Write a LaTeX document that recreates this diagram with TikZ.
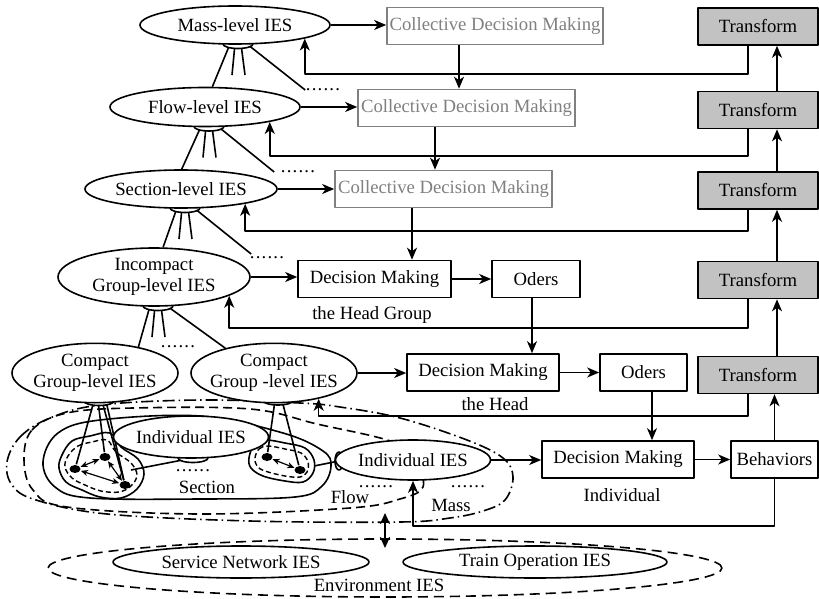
\documentclass[tikz,border=0pt]{standalone}
\usepackage{fontspec}
\setmainfont{Liberation Serif}
\usetikzlibrary{shapes.geometric,arrows.meta}
\pgfdeclarelayer{back}
\pgfsetlayers{back,main}
\definecolor{cdmgray}{gray}{0.5}
\definecolor{trfill}{gray}{0.76}
\newcommand\twoln[2]{\makebox[0pt]{\begin{tabular}{@{}c@{}}#1\\#2\end{tabular}}}
\newcommand\sixdots{.\kern1.2pt.\kern1.2pt.\kern1.2pt.\kern1.2pt.\kern1.2pt.}

\begin{document}
\begin{tikzpicture}[x=1pt,y=-1pt,line width=1.6pt,line join=round,
  every node/.style={font=\fontsize{18.7}{21}\selectfont},
  arr/.style={-{Stealth[length=12pt,width=10pt,inset=3.5pt]}},
  darr/.style={{Stealth[length=11pt,width=10pt,inset=3pt]}-{Stealth[length=11pt,width=10pt,inset=3pt]}},
  sarr/.style={line width=1.2pt,{Stealth[length=7pt,width=6pt,inset=2pt]}-{Stealth[length=7pt,width=6pt,inset=2pt]}},
  ies/.style={ellipse,draw,fill=white,inner sep=0pt},
  capnode/.style={ellipse,draw,fill=white,inner sep=0pt,minimum width=30pt,minimum height=9pt},
  box/.style={rectangle,draw,fill=white,inner sep=0pt,minimum height=37pt},
  cbox/.style={box,draw=cdmgray,text=cdmgray},
  tbox/.style={box,fill=trfill,minimum width=120pt},
  agent/.style={ellipse,fill=black,inner sep=0pt,minimum width=11pt,minimum height=8pt},
  lbl/.style={inner sep=0pt},
  dotsn/.style={inner sep=0pt},
  massloop/.style={dash pattern=on 12pt off 4pt on 1.5pt off 4pt},
  flowloop/.style={dash pattern=on 9pt off 5pt},
  blobin/.style={line width=1.4pt,dash pattern=on 5pt off 3pt},
  envloop/.style={dash pattern=on 10pt off 6pt}]
\useasboundingbox (0,0) rectangle (819,599);

% guide coordinates for vertical connectors
\coordinate (xa) at (459,0);
\coordinate (xb) at (435,0);
\coordinate (xc) at (412,0);
\coordinate (xd) at (532,0);
\coordinate (xe) at (652,0);
\coordinate (xt) at (777,0);
\coordinate (xf) at (748,0);

% environment
\node[ellipse,draw,envloop,minimum width=674pt,minimum height=58pt,inner sep=0pt] (env) at (385,568) {};
\node[ies,minimum width=256pt,minimum height=32pt] (svc) at (241,562) {Service Network IES};
\node[ies,minimum width=264pt,minimum height=32pt] (trn) at (535,562) {Train Operation IES};
\node[lbl] (envl) at (379,585) {Environment IES};

% agents inside the compact groups
\node[agent] (dA) at (75,469) {};
\node[agent] (dB) at (105,457) {};
\node[agent] (dC) at (125,485) {};
\node[agent] (dD) at (267,457) {};
\node[agent] (dE) at (300,470) {};
\draw[sarr] (dA) -- (dB);
\draw[sarr] (dA) -- (dC);
\draw[sarr] (dB) -- (dC);
\draw[sarr] (dD) -- (dE);

% caps under the ellipses
\node[capnode] (capM) at (238,44) {};
\node[capnode] (capF) at (209,126.5) {};
\node[capnode] (capS) at (185,208) {};
\node[capnode] (capI) at (158,306) {};
\node[capnode] (capCL) at (99,401) {};
\node[capnode] (capCR) at (278,400.5) {};
\node[capnode] (capA) at (193,458) {};
\node[capnode,minimum width=8pt,minimum height=18pt] (capB) at (339,461) {};

% IES ellipses
\node[ies,minimum width=190pt,minimum height=38pt] (mass) at (235,25) {Mass-level IES};
\node[ies,minimum width=190pt,minimum height=39pt] (flow) at (205,107) {Flow-level IES};
\node[ies,minimum width=192pt,minimum height=38pt] (sect) at (181,189) {Section-level IES};
\node[ies,minimum width=192pt,minimum height=58pt,align=center] (incomp) at (154,277) {Incompact\\Group-level IES};
\node[ies,minimum width=166pt,minimum height=56pt] (compL) at (95,373) {\twoln{Compact}{Group-level IES}};
\node[ies,minimum width=166pt,minimum height=55pt] (compR) at (274,373) {\twoln{Compact}{Group -level IES}};
\node[ies,minimum width=152pt,minimum height=42pt] (indA) at (191,437) {Individual IES};
\node[ies,minimum width=152pt,minimum height=40pt] (indB) at (413,460) {Individual IES};

% dotted continuations
\node[dotsn] (dotsM) at (323,90) {\sixdots};
\node[dotsn] (dotsF) at (298,172) {\sixdots};
\node[dotsn] (dotsS) at (267,258) {\sixdots};
\node[dotsn] (dotsI) at (178,347) {\sixdots};
\node[dotsn] (dotsA) at (193,471) {\sixdots};
\node[dotsn] (dotsB1) at (376,487) {\sixdots};
\node[dotsn] (dotsB2) at (468,487) {\sixdots};

% decision boxes
\node[cbox,minimum width=216pt] (cdm1) at (495,26) {Collective Decision Making};
\node[cbox,minimum width=217pt] (cdm2) at (466.5,108) {Collective Decision Making};
\node[cbox,minimum width=217pt] (cdm3) at (443.5,189) {Collective Decision Making};
\node[box,minimum width=153pt] (dm1) at (374.5,279) {Decision Making};
\node[box,minimum width=88pt] (od1) at (536,279) {Oders};
\node[box,minimum width=152pt] (dm2) at (483,372.5) {Decision Making};
\node[box,minimum width=87pt] (od2) at (643.5,372.5) {Oders};
\node[box,minimum width=152pt] (dm3) at (618,459.5) {Decision Making};
\node[box,minimum width=87pt] (beh) at (774.5,459.5) {Behaviors};
\node[tbox] (tr1) at (758,26.5) {Transform};
\node[tbox] (tr2) at (758,110) {Transform};
\node[tbox] (tr3) at (758,190.5) {Transform};
\node[tbox] (tr4) at (758,280) {Transform};
\node[tbox] (tr5) at (758,375) {Transform};

% labels
\node[lbl] (lhg) at (372,315) {the Head Group};
\node[lbl] (lh) at (495,404) {the Head};
\node[lbl] (lind) at (622,495) {Individual};
\node[lbl] (lsec) at (207,487) {Section};
\node[lbl] (lflow) at (350,497) {Flow};
\node[lbl] (lmass) at (451,505) {Mass};

% forward flow
\draw[arr] (mass.east) -- (cdm1.west |- mass.east);
\draw[arr] (flow.east) -- (cdm2.west |- flow.east);
\draw[arr] (sect.east) -- (cdm3.west |- sect.east);
\draw[arr] (incomp.east) -- (dm1.west |- incomp.east);
\draw[arr] (dm1.east) -- (od1.west |- dm1.east);
\draw[arr] (compR.east) -- (dm2.west |- compR.east);
\draw[arr] (dm2.east) -- (od2.west |- dm2.east);
\draw[arr] (indB.east) -- (dm3.west |- indB.east);
\draw[arr] (dm3.east) -- (beh.west |- dm3.east);

\draw[arr] (cdm1.south -| xa) -- (cdm2.north -| xa);
\draw[arr] (cdm2.south -| xb) -- (cdm3.north -| xb);
\draw[arr] (cdm3.south -| xc) -- (dm1.north -| xc);
\draw[arr] (od1.south -| xd) -- (dm2.north -| xd);
\draw[arr] (od2.south -| xe) -- (dm3.north -| xe);

\draw[arr] (beh.north) -- (tr5.south -| beh.north);
\draw[arr] (tr5.north -| xt) -- (tr4.south -| xt);
\draw[arr] (tr4.north -| xt) -- (tr3.south -| xt);
\draw[arr] (tr3.north -| xt) -- (tr2.south -| xt);
\draw[arr] (tr2.north -| xt) -- (tr1.south -| xt);

% feedback
\draw[arr] (tr1.south -| xf) -- ++(0,28) -| (mass.-11.07);
\draw[arr] (tr2.south -| xf) -- ++(0,26.5) -| (flow.-13.43);
\draw[arr] (tr3.south -| xf) -- ++(0,21) -| (sect.-13.16);
\draw[arr] (tr4.south -| xf) -- ++(0,28.5) -| (incomp.-14.04);
\draw[arr] (tr5.south -| xf) -- ++(0,21.5) -| (compR.-30.24);
\draw[arr] (beh.south) -- ++(0,47) -| (indB.south);

% link to the environment
\coordinate (envA) at (385,513);
\coordinate (envB) at (385,548);
\draw[darr] (envA) -- (envB);

\begin{pgfonlayer}{back}
\begin{scope}[line width=1.6pt,line join=round]
  % mass, flow and section groupings
  \draw[massloop] plot[smooth cycle,tension=0.6] coordinates {(7,462) (20,437) (50,418) (100,405) (200,400) (300,403) (340,407) (400,418) (467,440) (503,458) (513,477) (505,500) (483,511) (450,518) (400,522) (250,521) (107,514) (36,500) (12,485)};
  \draw[flowloop] plot[smooth cycle,tension=0.6] coordinates {(24,460) (32,430) (67,413) (133,408) (250,409) (317,424) (393,442) (415,462) (423,487) (400,499) (350,508) (200,514) (67,507) (33,490)};
  \draw plot[smooth cycle,tension=0.6] coordinates {(43,462) (58,433) (100,420) (200,416) (283,433) (323,451) (331,466) (322,486) (295,497) (200,499) (90,498) (55,487)};
  % compact groups
  \draw plot[smooth cycle,tension=0.6] coordinates {(62,455) (72,441) (90,436) (110,433) (121,447) (138,459) (144,474) (137,489) (121,498) (100,497) (82,490) (66,482) (59,468)};
  \draw[blobin] plot[smooth cycle,tension=0.6] coordinates {(68,456) (78,446) (92,442) (107,440) (116,452) (131,463) (137,475) (131,486) (119,492) (101,491) (85,485) (72,478) (65,467)};
  \draw plot[smooth cycle,tension=0.6] coordinates {(249,458) (254,445) (265,440) (285,443) (305,448) (314,460) (313,473) (303,482) (285,481) (263,476) (251,468)};
  \draw[blobin] plot[smooth cycle,tension=0.6] coordinates {(255,458) (259,449) (268,446) (285,449) (301,453) (308,462) (307,472) (300,477) (285,476) (265,471) (257,466)};
  % hierarchy fans
  \draw ([xshift=-8pt]capM.center) -- (flow.70);
  \draw ([xshift=-3pt]capM.center) -- ++(-3,31);
  \draw ([xshift=3pt]capM.center) -- ++(4,31);
  \draw ([xshift=9pt]capM.center) -- (dotsM.west);
  \draw ([xshift=-8pt]capF.center) -- (sect.88);
  \draw ([xshift=-3pt]capF.center) -- ++(-3,31);
  \draw ([xshift=3pt]capF.center) -- ++(4,31);
  \draw ([xshift=9pt]capF.center) -- ([xshift=-6pt]dotsF.west);
  \draw ([xshift=-8pt]capS.center) -- (incomp.73);
  \draw ([xshift=-3pt]capS.center) -- ++(-3,31);
  \draw ([xshift=3pt]capS.center) -- ++(4,31);
  \draw ([xshift=9pt]capS.center) -- ([xshift=2pt,yshift=4pt]dotsS.west);
  \draw ([xshift=-8pt]capI.center) -- (compL.31);
  \draw ([xshift=-3pt]capI.center) -- ++(-3,31);
  \draw ([xshift=3pt]capI.center) -- ++(4,31);
  \draw ([xshift=9pt]capI.center) -- (compR.153);
  % groups to their members
  \draw ([xshift=-5pt]capCL.center) -- (dA);
  \draw ([xshift=-1pt]capCL.center) -- (dB);
  \draw ([xshift=3pt]capCL.center) -- (dC);
  \draw ([xshift=7pt]capCL.center) -- (dC);
  \draw ([xshift=-3pt]capCR.center) -- (dD);
  \draw ([xshift=4pt]capCR.center) -- (dE);
  \coordinate (lbR) at (131,470);
  \coordinate (rbR) at (314,466);
  \draw (capA.center) -- (lbR);
  \draw (capB.center) -- (rbR);
\end{scope}
\end{pgfonlayer}
\end{tikzpicture}
\end{document}
